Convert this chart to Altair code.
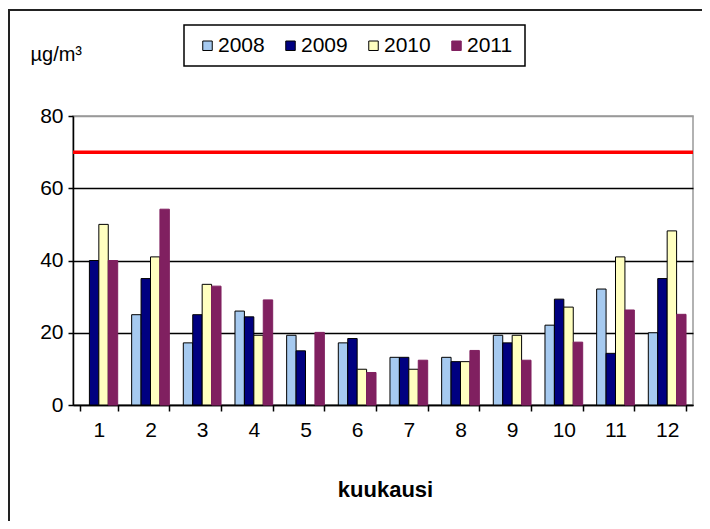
import altair as alt
import pandas as pd

months = list(range(1, 13))
years = ["2008", "2009", "2010", "2011"]
y2008 = [None, 25, 17.2, 26, 19.3, 17.2, 13.2, 13.2, 19.3, 22.1, 32.1, 20]
y2009 = [40, 35, 25, 24.4, 15, 18.4, 13.2, 12, 17.2, 29.3, 14.3, 35]
y2010 = [50, 41, 33.4, 19.3, None, 9.9, 9.9, 12, 19.3, 27.1, 41, 48.2]
y2011 = [40, 54.2, 32.9, 29.1, 20.1, 9, 12.4, 15.1, 12.4, 17.4, 26.3, 25.1]
limit_value = 70
fill_colors = ["#A6CAF0", "#000080", "#FFFFC0", "#802060"]
stroke_colors = ["#000000", "#000000", "#000000", "#802060"]

rows = []
for yr, vals in zip(years, [y2008, y2009, y2010, y2011]):
    for m, v in zip(months, vals):
        if v is not None:
            rows.append({"month": m, "year": yr, "value": v})
df = pd.DataFrame(rows)

FONT = "Liberation Sans"
W, H = 620, 289

legend = alt.Legend(
    orient="none", legendX=124, legendY=-81, direction="horizontal", title=None,
    symbolType="square", symbolSize=90, symbolStrokeWidth=1,
    labelFont=FONT, labelFontSize=21, labelColor="black", labelOffset=0,
    columnPadding=15,
)

bars = alt.Chart(df).mark_bar(strokeWidth=1).encode(
    x=alt.X("month:O", sort=months,
            scale=alt.Scale(paddingInner=0.27, paddingOuter=0.135),
            axis=alt.Axis(title="kuukausi", labelAngle=0, tickBand="extent",
                          labelFont=FONT, labelFontSize=21, labelColor="black",
                          labelPadding=8, tickSize=6, tickColor="black", tickWidth=1.5,
                          domainColor="black", domainWidth=1.5,
                          titleFont=FONT, titleFontSize=22, titleFontWeight="bold",
                          titleColor="black", titleX=312, titleY=91,
                          titleAlign="center", titleBaseline="alphabetic")),
    xOffset=alt.XOffset("year:N", sort=years,
                        scale=alt.Scale(paddingInner=0, paddingOuter=0)),
    y=alt.Y("value:Q",
            scale=alt.Scale(domain=[0, 80], nice=False),
            axis=alt.Axis(values=[0, 20, 40, 60, 80], title="µg/m³",
                          titleAngle=0, titleX=-43, titleY=-56, titleAlign="left",
                          titleBaseline="alphabetic", titleFont=FONT, titleFontSize=20,
                          titleFontWeight="normal", titleColor="black",
                          labelFont=FONT, labelFontSize=21, labelColor="black",
                          labelPadding=5, tickSize=5, tickColor="black", tickWidth=1.5,
                          domainColor="black", domainWidth=1.5,
                          grid=True,
                          gridColor={"condition": {"test": "datum.value === 80", "value": "#999999"}, "value": "black"},
                          gridWidth=1.5)),
    fill=alt.Fill("year:N", sort=years, scale=alt.Scale(domain=years, range=fill_colors), legend=legend),
    stroke=alt.Stroke("year:N", sort=years, scale=alt.Scale(domain=years, range=stroke_colors), legend=legend),
)

limit = alt.Chart(pd.DataFrame({"limit": [limit_value]})).mark_rule(
    color="#FF0000", strokeWidth=3.5
).encode(y="limit:Q")

one = pd.DataFrame({"a": [0]})
legend_frame = alt.Chart(one).mark_rect(fill="white", stroke="black", strokeWidth=1.5).encode(
    x=alt.value(111), x2=alt.value(452), y=alt.value(-91), y2=alt.value(-50)
)
top_border = alt.Chart(one).mark_rule(color="#222222", strokeWidth=2).encode(
    x=alt.value(-65), x2=alt.value(629), y=alt.value(-106)
)
left_border = alt.Chart(one).mark_rule(color="#222222", strokeWidth=2).encode(
    x=alt.value(-64), y=alt.value(-106), y2=alt.value(405)
)

chart = alt.layer(top_border, left_border, legend_frame, bars, limit).properties(
    width=W, height=H,
    autosize=alt.AutoSizeParams(type="none"),
    padding={"left": 65, "top": 108, "right": 9, "bottom": 116},
    background="white",
).configure_view(stroke="#999999", strokeWidth=1.5)

chart.save("out.html", embed_options={"renderer": "svg", "actions": False})
